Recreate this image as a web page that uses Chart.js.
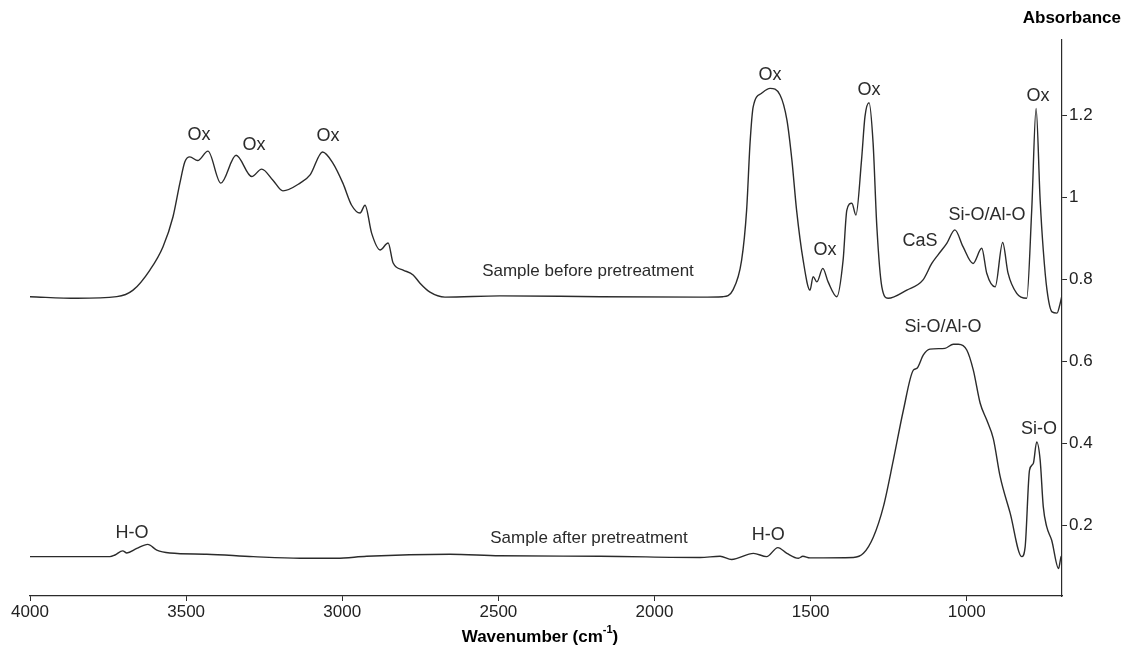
<!DOCTYPE html>
<html>
<head>
<meta charset="utf-8">
<script src="https://cdn.jsdelivr.net/npm/chart.js@4.4.0/dist/chart.umd.min.js"></script>
<style>
    html, body { margin: 0; padding: 0; background: #fff; }
    #wrap { width: 1129px; height: 660px; }
</style>
</head>
<body>
<div id="wrap"><canvas id="ftirChart"></canvas></div>
<script>
// Spectrum data
const beforeWn  = [4000, 3850, 3722, 3670, 3616, 3574, 3542, 3520, 3504, 3488, 3463, 3430, 3389, 3340, 3290, 3258, 3222, 3190, 3135, 3103, 3063, 3030, 2998, 2970, 2943, 2927, 2906, 2879, 2853, 2837, 2805, 2773, 2751, 2719, 2671, 2495, 2174, 1854, 1781, 1749, 1721, 1705, 1694, 1684, 1657, 1630, 1598, 1576, 1560, 1545, 1524, 1502, 1492, 1480, 1461, 1444, 1416, 1396, 1384, 1368, 1355, 1337, 1326, 1313, 1300, 1288, 1272, 1252, 1192, 1140, 1112, 1092, 1064, 1038, 1012, 980, 952, 936, 909, 885, 868, 840, 808, 792, 778, 765, 755, 743, 727, 711, 702, 695];
const beforeAbs = [0.757, 0.753, 0.757, 0.773, 0.822, 0.879, 0.952, 1.034, 1.086, 1.098, 1.089, 1.112, 1.034, 1.102, 1.050, 1.068, 1.041, 1.015, 1.034, 1.054, 1.110, 1.083, 1.034, 0.980, 0.961, 0.980, 0.912, 0.871, 0.888, 0.839, 0.822, 0.810, 0.790, 0.768, 0.756, 0.759, 0.757, 0.756, 0.757, 0.773, 0.846, 0.968, 1.132, 1.220, 1.253, 1.265, 1.249, 1.188, 1.090, 0.968, 0.846, 0.773, 0.806, 0.793, 0.826, 0.793, 0.757, 0.846, 0.968, 0.985, 0.956, 1.090, 1.196, 1.230, 1.132, 0.928, 0.781, 0.753, 0.773, 0.798, 0.838, 0.859, 0.887, 0.920, 0.879, 0.838, 0.875, 0.814, 0.781, 0.889, 0.815, 0.765, 0.753, 0.968, 1.216, 0.993, 0.871, 0.773, 0.720, 0.717, 0.737, 0.760];

const afterWn  = [4000, 3744, 3728, 3703, 3690, 3658, 3623, 3594, 3552, 3434, 3285, 3135, 3018, 2922, 2655, 2495, 2174, 1854, 1790, 1753, 1683, 1641, 1605, 1576, 1539, 1525, 1502, 1363, 1331, 1299, 1267, 1235, 1203, 1171, 1160, 1139, 1118, 1070, 1043, 1027, 1000, 979, 957, 936, 915, 893, 861, 824, 813, 799, 787, 776, 765, 755, 744, 728, 706, 698, 695];
const afterAbs = [0.123, 0.123, 0.127, 0.137, 0.132, 0.143, 0.153, 0.139, 0.132, 0.129, 0.123, 0.119, 0.119, 0.124, 0.129, 0.125, 0.124, 0.121, 0.124, 0.116, 0.131, 0.123, 0.145, 0.131, 0.119, 0.124, 0.120, 0.121, 0.131, 0.171, 0.245, 0.359, 0.480, 0.578, 0.582, 0.615, 0.629, 0.631, 0.641, 0.641, 0.627, 0.578, 0.497, 0.456, 0.411, 0.318, 0.229, 0.123, 0.147, 0.334, 0.350, 0.403, 0.359, 0.245, 0.196, 0.163, 0.094, 0.123, 0.125];

const xTicks = [4000, 3500, 3000, 2500, 2000, 1500, 1000];
const yTicks = [0.2, 0.4, 0.6, 0.8, 1.0, 1.2];

// Peak labels: text, wavenumber, absorbance
const peakText = ['Ox', 'Ox', 'Ox', 'Ox', 'Ox', 'Ox', 'CaS', 'Si-O/Al-O', 'Ox', 'Si-O/Al-O', 'Si-O', 'H-O', 'H-O'];
const peakWn   = [3459, 3283, 3046, 1630, 1454, 1313, 1150, 935, 772, 1076, 769, 3673, 1636];
const peakAbs  = [1.151, 1.127, 1.149, 1.298, 0.871, 1.261, 0.893, 0.956, 1.246, 0.683, 0.434, 0.180, 0.176];

const sampleText = ['Sample before pretreatment', 'Sample after pretreatment'];
const sampleWn   = [2213, 2210];
const sampleAbs  = [0.820, 0.168];

const INK = '#2b2b2b';
const FONT = '"Liberation Sans", Arial, sans-serif';

function toPoints(xs, ys) {
    return xs.map((x, i) => ({ x: x, y: ys[i] }));
}

// Labels and axis titles drawn on top of the plot
const textPlugin = {
    id: 'ftirText',
    afterDraw(chart) {
        const ctx = chart.ctx;
        const xs = chart.scales.x;
        const ys = chart.scales.y;
        ctx.save();
        ctx.fillStyle = INK;
        ctx.textAlign = 'center';
        ctx.textBaseline = 'middle';

        ctx.font = '18px ' + FONT;
        peakText.forEach((t, i) => {
            ctx.fillText(t, xs.getPixelForValue(peakWn[i]), ys.getPixelForValue(peakAbs[i]));
        });

        ctx.font = '17px ' + FONT;
        sampleText.forEach((t, i) => {
            ctx.fillText(t, xs.getPixelForValue(sampleWn[i]), ys.getPixelForValue(sampleAbs[i]));
        });

        // y title
        ctx.font = 'bold 17px ' + FONT;
        ctx.textAlign = 'right';
        ctx.fillStyle = '#000';
        ctx.fillText('Absorbance', 1121, 18);

        // x title with superscript
        const main = 'Wavenumber (cm';
        const sup = '-1';
        const tail = ')';
        ctx.font = 'bold 17px ' + FONT;
        const wMain = ctx.measureText(main).width;
        const wTail = ctx.measureText(tail).width;
        ctx.font = 'bold 11px ' + FONT;
        const wSup = ctx.measureText(sup).width;
        let x0 = 540 - (wMain + wSup + wTail) / 2;
        const y0 = 637;
        ctx.textAlign = 'left';
        ctx.font = 'bold 17px ' + FONT;
        ctx.fillText(main, x0, y0);
        ctx.font = 'bold 11px ' + FONT;
        ctx.fillText(sup, x0 + wMain, y0 - 7);
        ctx.font = 'bold 17px ' + FONT;
        ctx.fillText(tail, x0 + wMain + wSup, y0);
        ctx.restore();
    }
};

new Chart(document.getElementById('ftirChart'), {
    type: 'line',
    data: {
        datasets: [
            {
                label: 'Sample before pretreatment',
                data: toPoints(beforeWn, beforeAbs),
                borderColor: INK,
                borderWidth: 1.4,
                pointRadius: 0,
                fill: false,
                cubicInterpolationMode: 'monotone'
            },
            {
                label: 'Sample after pretreatment',
                data: toPoints(afterWn, afterAbs),
                borderColor: INK,
                borderWidth: 1.4,
                pointRadius: 0,
                fill: false,
                cubicInterpolationMode: 'monotone'
            }
        ]
    },
    options: {
        responsive: true,
        maintainAspectRatio: false,
        animation: false,
        layout: { padding: { left: 30, top: 40, right: 0, bottom: 0 } },
        plugins: {
            legend: { display: false },
            tooltip: { enabled: false }
        },
        scales: {
            x: {
                type: 'linear',
                reverse: true,
                min: 695,
                max: 4000,
                afterBuildTicks: function(scale) {
                    scale.ticks = xTicks.map(v => ({ value: v }));
                },
                afterFit: function(scale) { scale.height = 64; },
                border: { display: true, color: INK, width: 1.2 },
                grid: { drawOnChartArea: false, drawTicks: true, tickLength: 5, color: INK },
                ticks: {
                    color: '#222',
                    font: { family: FONT, size: 17 },
                    padding: 1,
                    maxRotation: 0,
                    autoSkip: false,
                    callback: function(value) {
                        return String(value);
                    }
                }
            },
            y: {
                type: 'linear',
                position: 'right',
                min: 0.027,
                max: 1.383,
                afterBuildTicks: function(scale) {
                    scale.ticks = yTicks.map(v => ({ value: v }));
                },
                afterFit: function(scale) { scale.width = 67; },
                border: { display: true, color: INK, width: 1.2 },
                grid: { drawOnChartArea: false, drawTicks: true, tickLength: 5, color: INK },
                ticks: {
                    color: '#222',
                    font: { family: FONT, size: 17 },
                    padding: 2,
                    callback: function(value) {
                        return value === 1 ? '1' : value.toFixed(1);
                    }
                }
            }
        }
    },
    plugins: [textPlugin]
});
</script>
</body>
</html>
